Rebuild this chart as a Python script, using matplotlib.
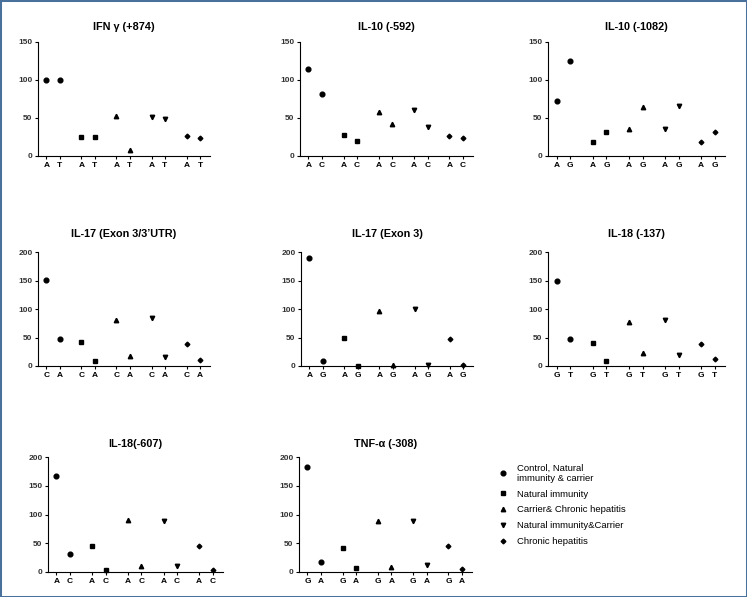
import matplotlib
matplotlib.use('Agg')
import matplotlib.pyplot as plt
from matplotlib.patches import Rectangle
from matplotlib.lines import Line2D

plt.rcParams['font.family'] = ['Liberation Sans', 'DejaVu Sans']

# Daten pro Panel
titles = ['IFN γ (+874)', 'IL-10 (-592)', 'IL-10 (-1082)',
          'IL-17 (Exon 3/3\u2019UTR)', 'IL-17 (Exon 3)', 'IL-18 (-137)',
          'IL-18(-607)', 'TNF-α (-308)']
alleles = [('A', 'T'), ('A', 'C'), ('A', 'G'),
           ('C', 'A'), ('A', 'G'), ('G', 'T'),
           ('A', 'C'), ('G', 'A')]
ymax = [150, 150, 150, 200, 200, 200, 200, 200]

groups = ['Control, Natural\nimmunity & carrier', 'Natural immunity',
          'Carrier& Chronic hepatitis', 'Natural immunity&Carrier',
          'Chronic hepatitis']
markers = ['o', 's', '^', 'v', 'D']
msize = [3.4, 3.2, 3.2, 3.2, 2.4]

# values[panel][group] = (allele1, allele2)
values = [
    [(100, 100), (25, 25), (52, 8), (51, 49), (26, 24)],
    [(115, 81), (28, 20), (58, 42), (60, 38), (26, 24)],
    [(73, 125), (19, 31), (35, 65), (36, 66), (19, 31)],
    [(151, 47), (42, 8), (81, 18), (85, 16), (39, 11)],
    [(189, 8), (50, 0), (97, 1), (100, 1), (48, 2)],
    [(150, 48), (41, 9), (77, 22), (81, 19), (38, 12)],
    [(167, 31), (45, 4), (90, 10), (89, 11), (46, 4)],
    [(182, 18), (42, 7), (89, 9), (88, 13), (45, 5)],
]

# Achsen in Pixeln: links, oben, rechts, unten
boxes = [(38, 42, 210, 156), (300, 42, 473, 156), (548, 42, 725, 156),
         (38, 252, 210, 366), (301, 252, 473, 366), (548, 252, 725, 366),
         (48, 457, 223, 572), (299, 457, 472, 572)]
title_pad = [9, 9, 9, 10.5, 10.5, 10.5, 7.5, 7.5]

W, H = 747, 597
fig = plt.figure(figsize=(W / 100, H / 100), dpi=100)

step = 2.625
for i in range(8):
    l, t, r, b = boxes[i]
    ax = fig.add_axes([l / W, 1 - b / H, (r - l) / W, (b - t) / H])
    pos = []
    labs = []
    for g in range(5):
        x = [g * step, g * step + 1]
        ax.plot(x, values[i][g], linestyle='none', marker=markers[g],
                markersize=msize[g], color='black', clip_on=False, zorder=3)
        pos += x
        labs += list(alleles[i])
    ax.set_xlim(-0.625, 4 * step + 1.75)
    ax.set_ylim(0, ymax[i])
    ax.set_yticks(range(0, ymax[i] + 1, 50))
    ax.set_xticks(pos)
    ax.set_xticklabels(labs, fontsize=6, fontweight='bold')
    for lab in ax.get_yticklabels():
        lab.set_fontsize(6)
        lab.set_fontweight('bold')
        lab.set_color('#333333')
    ax.spines['top'].set_visible(False)
    ax.spines['right'].set_visible(False)
    ax.spines['left'].set_linewidth(0.8)
    ax.spines['bottom'].set_linewidth(0.8)
    ax.tick_params(axis='both', length=2.5, width=0.8, pad=1.5)
    ax.set_title(titles[i], fontsize=7.8, fontweight='bold', pad=title_pad[i])

handles = [Line2D([], [], linestyle='none', marker=markers[g],
                  markersize=msize[g], color='black') for g in range(5)]
fig.legend(handles, groups, loc='upper left',
           bbox_to_anchor=(489 / W, 1 - 455 / H), frameon=False,
           fontsize=6.8, handletextpad=0.9, labelspacing=0.72,
           handlelength=1.2)

fig.patches.append(Rectangle((0, 0), 1, 1, transform=fig.transFigure,
                             fill=False, edgecolor='#4a719c', linewidth=2.2))

fig.savefig('out.png', dpi=100)
